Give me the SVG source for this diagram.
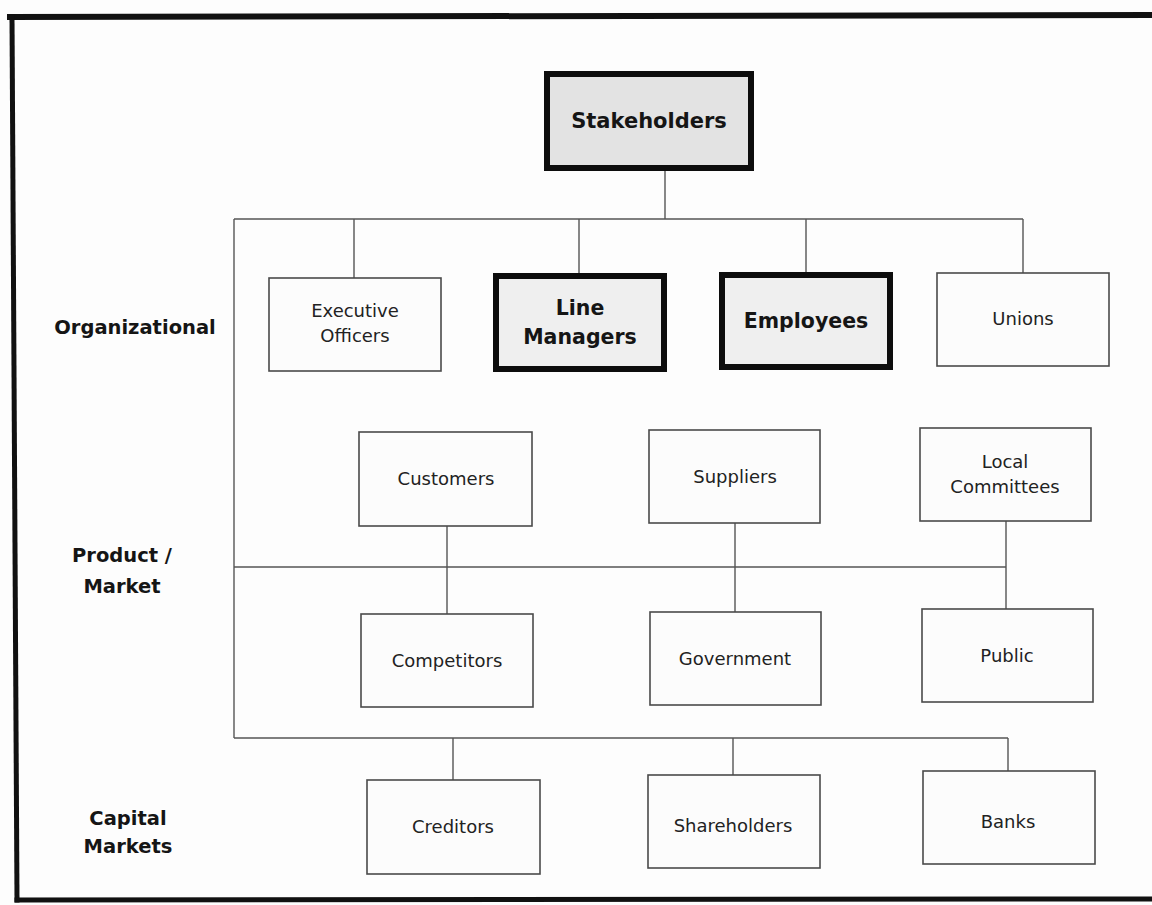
<svg xmlns="http://www.w3.org/2000/svg" width="1152" height="905" viewBox="0 0 1152 905">
  <style>
    .frame { stroke: #111; fill: none; stroke-linecap: square; }
    .wire { stroke: #555; stroke-width: 1.4; fill: none; }
    .box { fill: #fcfcfc; stroke: #4a4a4a; stroke-width: 1.6; }
    .key { fill: #efefef; stroke: #0d0d0d; stroke-width: 6; }
    .root { fill: #e3e3e3; stroke: #0d0d0d; stroke-width: 6; }
    .lbl { font-family: "DejaVu Sans", "Liberation Sans", sans-serif; font-size: 18px; fill: #222; text-anchor: middle; }
    .lblb { font-family: "DejaVu Sans", "Liberation Sans", sans-serif; font-size: 20.5px; font-weight: bold; fill: #151515; text-anchor: middle; }
    .tier { font-family: "DejaVu Sans", "Liberation Sans", sans-serif; font-size: 19.5px; font-weight: bold; fill: #151515; text-anchor: middle; }
  </style>

  <rect x="0" y="0" width="1152" height="905" fill="#fdfdfd"/>

  <!-- outer frame (top, left, bottom; right side open) -->
  <g id="frame">
    <line class="frame" x1="10" y1="17" x2="1152" y2="15" stroke-width="6"/>
    <line class="frame" x1="12" y1="17" x2="17" y2="900" stroke-width="5"/>
    <line class="frame" x1="17" y1="900" x2="1152" y2="899" stroke-width="5"/>
  </g>

  <!-- connectors -->
  <g id="connectors">
    <path class="wire" d="M665 171 V219"/>
    <path class="wire" d="M234 219 H1023"/>
    <path class="wire" d="M354 219 V278 M579 219 V273 M806 219 V272 M1023 219 V273"/>
    <path class="wire" d="M234 219 V738"/>
    <path class="wire" d="M234 567 H1006"/>
    <path class="wire" d="M447 526 V614 M735 523 V612 M1006 521 V609"/>
    <path class="wire" d="M234 738 H1008"/>
    <path class="wire" d="M453 738 V780 M733 738 V775 M1008 738 V771"/>
  </g>

  <!-- tier labels -->
  <g id="tier-organizational">
    <text class="tier" x="135" y="334">Organizational</text>
  </g>
  <g id="tier-product-market">
    <text class="tier" x="122" y="562">Product /</text>
    <text class="tier" x="122" y="593">Market</text>
  </g>
  <g id="tier-capital-markets">
    <text class="tier" x="128" y="825">Capital</text>
    <text class="tier" x="128" y="853">Markets</text>
  </g>

  <!-- root -->
  <g id="node-stakeholders">
    <rect class="root" x="547" y="74" width="204" height="94"/>
    <text class="lblb" x="649" y="128" style="font-size:21px">Stakeholders</text>
  </g>

  <!-- organizational row -->
  <g id="node-executive-officers">
    <rect class="box" x="269" y="278" width="172" height="93"/>
    <text class="lbl" x="355" y="317">Executive</text>
    <text class="lbl" x="355" y="342">Officers</text>
  </g>
  <g id="node-line-managers">
    <rect class="key" x="496" y="276" width="168" height="93"/>
    <text class="lblb" x="580" y="315">Line</text>
    <text class="lblb" x="580" y="344">Managers</text>
  </g>
  <g id="node-employees">
    <rect class="key" x="722" y="275" width="168" height="92"/>
    <text class="lblb" x="806" y="328">Employees</text>
  </g>
  <g id="node-unions">
    <rect class="box" x="937" y="273" width="172" height="93"/>
    <text class="lbl" x="1023" y="325">Unions</text>
  </g>

  <!-- product / market rows -->
  <g id="node-customers">
    <rect class="box" x="359" y="432" width="173" height="94"/>
    <text class="lbl" x="446" y="485">Customers</text>
  </g>
  <g id="node-suppliers">
    <rect class="box" x="649" y="430" width="171" height="93"/>
    <text class="lbl" x="735" y="483">Suppliers</text>
  </g>
  <g id="node-local-committees">
    <rect class="box" x="920" y="428" width="171" height="93"/>
    <text class="lbl" x="1005" y="468">Local</text>
    <text class="lbl" x="1005" y="493">Committees</text>
  </g>
  <g id="node-competitors">
    <rect class="box" x="361" y="614" width="172" height="93"/>
    <text class="lbl" x="447" y="667">Competitors</text>
  </g>
  <g id="node-government">
    <rect class="box" x="650" y="612" width="171" height="93"/>
    <text class="lbl" x="735" y="665">Government</text>
  </g>
  <g id="node-public">
    <rect class="box" x="922" y="609" width="171" height="93"/>
    <text class="lbl" x="1007" y="662">Public</text>
  </g>

  <!-- capital markets row -->
  <g id="node-creditors">
    <rect class="box" x="367" y="780" width="173" height="94"/>
    <text class="lbl" x="453" y="833">Creditors</text>
  </g>
  <g id="node-shareholders">
    <rect class="box" x="648" y="775" width="172" height="93"/>
    <text class="lbl" x="733" y="832">Shareholders</text>
  </g>
  <g id="node-banks">
    <rect class="box" x="923" y="771" width="172" height="93"/>
    <text class="lbl" x="1008" y="828">Banks</text>
  </g>
</svg>
